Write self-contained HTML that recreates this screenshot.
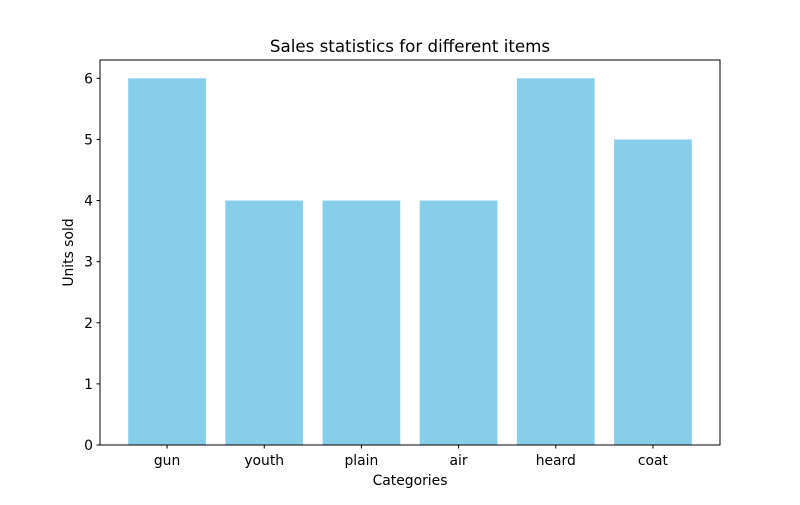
<!DOCTYPE html>
<html><head><meta charset="utf-8"><style>
body{margin:0;background:#fff;}
svg text{font-family:"DejaVu Sans","Liberation Sans",sans-serif;fill:#000;}
</style></head><body>
<svg id="chart" width="800" height="500" xmlns="http://www.w3.org/2000/svg">
<rect width="800" height="500" fill="#fff"/>
<g id="bars"></g>
<rect x="100" y="60" width="620" height="385" fill="none" stroke="#000" stroke-width="1"/>
<g id="axes"></g>
<text x="410" y="52" text-anchor="middle" font-size="16.7">Sales statistics for different items</text>
<text x="410" y="485" text-anchor="middle" font-size="13.9">Categories</text>
<text transform="translate(73,252.5) rotate(-90)" text-anchor="middle" font-size="13.9">Units sold</text>
</svg>
<script>
const categories = ["gun","youth","plain","air","heard","coat"];
const values = [6,4,4,4,6,5];
const yTicks = [0,1,2,3,4,5,6];

const L=100,R=720,T=60,B=445;
const yMax=Math.max(...values)*1.05;
const xMin=-0.4-(categories.length-0.2)*0.05, xMax=categories.length-0.6+(categories.length-0.2)*0.05;
const xS=v=>L+(v-xMin)/(xMax-xMin)*(R-L);
const yS=v=>B-v/yMax*(B-T);
const ns="http://www.w3.org/2000/svg";
const bars=document.getElementById('bars'), axes=document.getElementById('axes');
function mk(tag,attrs,parent){const e=document.createElementNS(ns,tag);for(const k in attrs)e.setAttribute(k,attrs[k]);parent.appendChild(e);return e;}
categories.forEach((c,i)=>{
  const x0=xS(i-0.4), x1=xS(i+0.4);
  const r=mk('rect',{x:x0,y:yS(values[i]),width:x1-x0,height:B-yS(values[i]),fill:'#87ceeb'},bars);
  
  
  const t=mk('line',{x1:xS(i),x2:xS(i),y1:B,y2:B+3.5,stroke:'#000'},axes);
  
  
  const l=mk('text',{x:xS(i),y:B+20,'text-anchor':'middle','font-size':'13.9'},axes);
  l.textContent=c;
  
  
});
yTicks.forEach(v=>{
  const t=mk('line',{x1:L-3.5,x2:L,y1:yS(v),y2:yS(v),stroke:'#000'},axes);
  
  
  const l=mk('text',{x:L-7,y:yS(v)+5,'text-anchor':'end','font-size':'13.9'},axes);
  l.textContent=v;
  
  
});
</script>
</body></html>
